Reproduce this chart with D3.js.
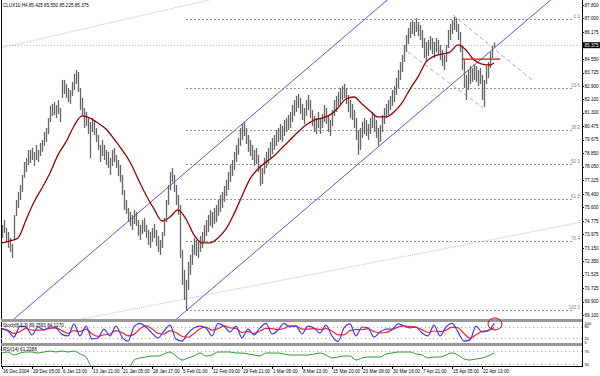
<!DOCTYPE html>
<html>
<head>
<meta charset="utf-8">
<script src="https://cdn.jsdelivr.net/npm/d3@7"></script>
<style>
body { margin: 0; background: #fff; }
svg { display: block; }
text { font-family: "Liberation Sans", Arial, sans-serif; }
</style>
</head>
<body>
<svg></svg>
<script>
// H4 bars, one entry every two bars
let barHigh = [
  74.53, 74.83, 74.35, 74.11, 73.75, 73.39, 75.13, 76.04, 76.52, 76.94,
  77.55, 78.33, 78.57, 79.06, 79.06, 79.18, 78.94, 79.36, 79.06, 79.48,
  79.66, 80.14, 80.38, 80.98, 81.71, 81.83, 81.95, 81.77, 82.07, 81.59,
  83.28, 83.28, 83.04, 82.79, 82.67, 83.16, 83.64, 83.88, 83.76, 82.79,
  82.19, 81.59, 81.35, 80.98, 80.74, 80.98, 80.86, 80.38, 79.96, 79.36,
  79.66, 79.36, 79.06, 78.94, 78.57, 79.06, 79.18, 78.76, 78.45, 78.15,
  77.55, 76.64, 76.04, 75.56, 75.32, 75.14, 75.44, 75.32, 74.83, 74.53,
  74.83, 74.95, 74.53, 74.23, 74.11, 74.35, 74.59, 74.23, 73.87, 73.63,
  74.11, 74.95, 76.04, 76.94, 77.73, 77.97, 77.55, 76.94, 76.34, 75.74,
  73.03, 71.82, 71.22, 72.30, 72.73, 73.33, 73.75, 73.63, 73.51, 73.87,
  74.11, 74.53, 74.83, 75.14, 75.44, 75.32, 75.56, 75.74, 76.04, 76.34,
  76.52, 76.88, 77.25, 77.73, 78.15, 78.45, 78.94, 79.36, 79.78, 80.38,
  80.62, 80.74, 80.38, 79.96, 79.66, 79.36, 79.06, 79.18, 78.76, 78.15,
  77.97, 78.57, 78.94, 79.18, 79.54, 79.78, 79.96, 80.26, 80.38, 80.62,
  80.50, 80.86, 80.98, 81.17, 81.35, 81.77, 82.07, 82.31, 82.43, 82.19,
  81.83, 81.59, 82.07, 82.37, 82.07, 81.47, 81.11, 80.98, 81.35, 80.98,
  81.23, 81.77, 81.59, 81.11, 80.86, 81.47, 82.07, 82.31, 82.55, 82.79,
  82.91, 83.04, 82.79, 82.37, 82.07, 81.83, 81.47, 80.98, 80.26, 80.38,
  80.74, 80.98, 80.86, 80.62, 80.98, 81.35, 81.17, 80.86, 80.38, 80.56,
  81.17, 81.59, 81.83, 82.07, 82.31, 82.67, 82.91, 83.40, 83.88, 84.36,
  84.78, 85.39, 85.99, 86.41, 86.77, 86.89, 86.77, 87.01, 86.77, 86.59,
  86.29, 85.81, 85.57, 85.69, 85.93, 85.81, 85.57, 85.81, 85.69, 85.39,
  85.09, 84.78, 85.39, 86.29, 86.65, 86.89, 87.07, 87.01, 86.65, 86.17,
  85.39, 84.48, 83.58, 83.88, 84.12, 84.00, 84.24, 84.12, 83.88, 84.00,
  83.58, 83.28, 84.12, 84.36, 84.96, 85.33, 85.55
]
let barLow = [
  73.75, 74.05, 73.51, 73.15, 72.91, 72.54, 73.63, 75.07, 75.56, 76.04,
  76.52, 77.37, 77.73, 78.15, 78.27, 78.45, 78.09, 78.45, 78.33, 78.69,
  78.94, 79.30, 79.54, 80.02, 80.74, 81.11, 81.17, 80.98, 81.23, 80.74,
  82.19, 82.43, 82.19, 81.95, 81.83, 82.31, 82.67, 83.04, 82.55, 81.47,
  81.11, 80.38, 80.50, 80.02, 78.57, 80.14, 79.96, 79.54, 79.06, 78.33,
  78.69, 78.45, 78.15, 77.97, 77.55, 78.09, 78.33, 77.97, 77.49, 77.13,
  76.34, 75.44, 75.20, 74.71, 74.47, 74.23, 74.59, 74.47, 73.87, 73.63,
  73.99, 74.11, 73.75, 73.33, 73.15, 73.51, 73.75, 73.27, 72.91, 72.73,
  73.15, 73.87, 74.71, 75.74, 76.64, 77.13, 76.52, 75.74, 75.14, 72.54,
  70.91, 70.01, 69.35, 70.61, 71.52, 72.12, 72.73, 72.66, 72.54, 72.91,
  73.15, 73.51, 73.87, 74.11, 74.47, 74.35, 74.59, 74.71, 75.08, 75.32,
  75.56, 75.92, 76.28, 76.64, 77.13, 77.49, 77.85, 78.33, 78.76, 79.30,
  79.66, 79.90, 79.42, 78.94, 78.69, 78.45, 78.09, 78.21, 77.73, 76.88,
  77.00, 77.61, 77.97, 78.21, 78.57, 78.82, 79.06, 79.30, 79.54, 79.66,
  79.54, 79.90, 80.14, 80.26, 80.38, 80.74, 81.11, 81.35, 81.59, 81.23,
  80.86, 80.62, 81.11, 81.47, 80.98, 80.50, 80.14, 80.02, 80.38, 80.02,
  80.38, 80.74, 80.62, 80.14, 79.90, 80.50, 81.11, 81.35, 81.71, 81.83,
  82.07, 82.19, 81.83, 81.35, 80.98, 80.86, 80.38, 79.66, 78.76, 79.06,
  79.78, 80.02, 79.90, 79.66, 80.02, 80.38, 80.14, 79.78, 79.30, 79.54,
  80.14, 80.62, 80.98, 81.17, 81.47, 81.71, 81.95, 82.37, 82.79, 83.28,
  83.76, 84.36, 84.96, 85.45, 85.81, 86.05, 85.93, 86.17, 85.93, 85.69,
  85.21, 84.60, 84.36, 84.72, 85.09, 84.84, 84.60, 84.96, 84.78, 84.48,
  84.12, 83.88, 84.36, 85.21, 85.69, 86.05, 86.29, 86.17, 85.69, 84.96,
  83.88, 82.79, 82.07, 82.67, 83.04, 83.16, 83.28, 83.16, 82.91, 83.04,
  82.07, 81.65, 83.04, 83.40, 84.00, 84.60, 85.23
]

// moving average, one value every 4 entries (last one at the final bar)
let maValues = [
  73.45, 73.57, 73.75, 74.83, 75.92, 76.76, 77.67, 78.76, 79.54, 80.50,
  81.11, 80.98, 80.68, 80.32, 79.72, 79.06, 78.33, 77.31, 76.34, 75.50,
  74.77, 75.01, 75.44, 74.89, 73.93, 73.45, 73.45, 73.75, 74.29, 75.20,
  76.28, 77.31, 77.91, 78.33, 78.69, 79.18, 79.66, 80.14, 80.56, 80.86,
  80.98, 81.17, 81.59, 82.13, 82.25, 81.83, 81.41, 81.05, 81.05, 81.35,
  81.89, 82.73, 83.46, 84.36, 84.72, 84.84, 84.96, 85.39, 85.09, 84.48,
  84.24, 84.18, 84.30
]

// oscillators, one value every 3 entries
let stochMain = [
  68, 58, 26, 84, 79, 37, 79, 63, 79, 74, 40, 32, 95, 32, 84, 16, 21, 68, 32, 84,
  26, 5, 79, 98, 79, 47, 21, 58, 89, 16, 5, 47, 74, 84, 74, 32, 98, 84, 53, 84,
  21, 68, 37, 74, 98, 42, 63, 98, 79, 84, 42, 84, 74, 47, 89, 32, 3, 74, 95, 32,
  79, 74, 26, 53, 68, 68, 95, 84, 74, 79, 47, 32, 89, 32, 79, 98, 53, 5, 11, 84,
  53, 58, 98
]
let stochSignal = [
  70, 62, 45, 55, 72, 62, 62, 65, 72, 74, 60, 45, 60, 55, 68, 42, 30, 38, 42, 60,
  50, 32, 40, 70, 85, 70, 45, 42, 60, 50, 30, 25, 45, 70, 78, 62, 70, 85, 75, 72,
  50, 55, 45, 58, 72, 70, 65, 72, 85, 85, 68, 68, 70, 65, 70, 58, 38, 38, 60, 65,
  65, 70, 55, 48, 50, 64, 78, 85, 82, 78, 65, 50, 58, 55, 62, 78, 75, 45, 20, 38,
  55, 62, 75
]
let rsiValues = [
  64, 67, 58, 64, 67, 67, 64, 67, 70, 67, 70, 67, 70, 61, 52, 22, 24, 20, 22, 24,
  18, 15, 43, 49, 52, 55, 55, 61, 67, 55, 43, 49, 55, 64, 55, 58, 67, 67, 67, 64,
  64, 61, 58, 55, 64, 64, 64, 61, 58, 58, 58, 58, 61, 64, 58, 49, 52, 55, 55, 43,
  49, 52, 52, 52, 61, 64, 67, 67, 67, 61, 58, 49, 52, 52, 58, 64, 58, 46, 43, 46,
  49, 55, 64
]

let timeLabels = ["16 Dec 2004", "29 Dec 05:00", "6 Jan 13:00", "13 Jan 21:00", "21 Jan 05:00",
  "28 Jan 17:00", "5 Feb 01:00", "12 Feb 09:00", "19 Feb 21:00", "1 Mar 05:00", "8 Mar 13:00",
  "15 Mar 20:00", "23 Mar 08:00", "30 Mar 16:00", "7 Apr 21:00", "15 Apr 05:00", "22 Apr 13:00"]
let priceLabels = ["87.800", "87.000", "86.175", "85.375", "84.550", "83.725", "82.900", "82.100",
  "81.300", "80.475", "79.675", "78.850", "78.050", "77.225", "76.400", "75.600", "74.775",
  "73.975", "73.150", "72.350", "71.525", "70.725", "69.900", "69.100"]
let fibNames = ["0.0", "23.6", "38.2", "50.0", "61.8", "76.4", "100.0"]
let fibPrices = [86.95, 82.81, 80.25, 78.18, 76.11, 73.55, 69.41]
let lastPrice = 85.375
let header = "CLUX10,H4  85.425 85.550 85.225 85.375"

let width = 600
let height = 376
let chartRight = 582
let fs = 4.6

let svg = d3.select("svg").attr("width", width).attr("height", height)

let xScale = d3.scaleLinear().domain([0, barHigh.length - 1]).range([2, 494])
let yScale = d3.scaleLinear().domain([69.1, 87.8]).range([315, 5])
let stochScale = d3.scaleLinear().domain([0, 100]).range([342, 323])
let rsiScale = d3.scaleLinear().domain([25, 85]).range([366, 346])

svg.append("clipPath").attr("id", "mainClip")
  .append("rect").attr("x", 1).attr("y", 0).attr("width", chartRight - 1).attr("height", 319)
svg.append("clipPath").attr("id", "stochClip")
  .append("rect").attr("x", 1).attr("y", 322).attr("width", chartRight - 1).attr("height", 21)
svg.append("clipPath").attr("id", "rsiClip")
  .append("rect").attr("x", 1).attr("y", 346).attr("width", chartRight - 1).attr("height", 20)

let main = svg.append("g").attr("clip-path", "url(#mainClip)")

// fibonacci levels
fibPrices.forEach((p, i) => {
  main.append("line")
    .attr("x1", xScale(92)).attr("x2", 574)
    .attr("y1", Math.round(yScale(p)) + 0.5).attr("y2", Math.round(yScale(p)) + 0.5)
    .attr("stroke", "#999").attr("stroke-dasharray", "2,2")
  svg.append("text").attr("x", 580).attr("y", yScale(p) - 1)
    .attr("text-anchor", "end").attr("font-size", fs).attr("fill", "#888")
    .text(fibNames[i])
})

// bid line
main.append("line")
  .attr("x1", 0).attr("x2", chartRight)
  .attr("y1", Math.round(yScale(lastPrice)) + 0.5).attr("y2", Math.round(yScale(lastPrice)) + 0.5)
  .attr("stroke", "#bbb").attr("stroke-dasharray", "1,2")

// draws a line through two points (bar, price), stretched across the chart
let ray = (b1, p1, b2, p2) => {
  let x1 = xScale(b1), y1 = yScale(p1), x2 = xScale(b2), y2 = yScale(p2)
  let k = (y2 - y1) / (x2 - x1)
  return [[-20, y1 + k * (-20 - x1)], [chartRight + 20, y1 + k * (chartRight + 20 - x1)]]
}
let drawLine = (pts, color, dash) => {
  main.append("path")
    .attr("d", d3.line()(pts))
    .attr("fill", "none").attr("stroke", color).attr("stroke-width", 1)
    .attr("stroke-dasharray", dash)
}

drawLine(ray(19, 85.75, 99, 87.98), "#b8b8ee", "1,1")
drawLine(ray(249, 73.75, 290, 74.71), "#b8b8ee", "1,1")
drawLine(ray(40, 72.37, 190, 87.83), "#5a5ad6", null)
drawLine(ray(92, 69.35, 242, 84.78), "#5a5ad6", null)

// gray dashed channel
drawLine([[xScale(225.5), yScale(87.20)], [xScale(265), yScale(83.28)]], "#aaa", "4,3")
drawLine([[xScale(203), yScale(84.96)], [xScale(240.5), yScale(81.59)]], "#aaa", "4,3")

// bars
main.selectAll(".bar")
  .data(barHigh)
  .enter()
  .append("line")
  .attr("class", "bar")
  .attr("x1", (d, i) => xScale(i) + 0.5)
  .attr("x2", (d, i) => xScale(i) + 0.5)
  .attr("y1", (d) => yScale(d))
  .attr("y2", (d, i) => yScale(barLow[i]))
  .attr("stroke", "#666")
  .attr("stroke-width", 1.3)

// moving average
let maBars = maValues.map((v, i) => i < maValues.length - 1 ? i * 4 : barHigh.length - 1)
main.append("path")
  .datum(maValues)
  .attr("d", d3.line().curve(d3.curveMonotoneX)
    .x((d, i) => xScale(maBars[i])).y((d) => yScale(d)))
  .attr("fill", "none").attr("stroke", "#9a0000").attr("stroke-width", 1.3)

// red horizontal segment
main.append("line")
  .attr("x1", xScale(230)).attr("x2", xScale(249))
  .attr("y1", yScale(84.54)).attr("y2", yScale(84.54))
  .attr("stroke", "#ee0000").attr("stroke-width", 1.3)

// header
svg.append("text").attr("x", 3).attr("y", 7).attr("font-size", fs).attr("fill", "#000").text(header)

// price axis
svg.append("line").attr("x1", chartRight + 0.5).attr("x2", chartRight + 0.5)
  .attr("y1", 0).attr("y2", 367).attr("stroke", "#000")
priceLabels.forEach((lab) => {
  let y = yScale(+lab)
  svg.append("line").attr("x1", chartRight).attr("x2", chartRight + 2)
    .attr("y1", Math.round(y) + 0.5).attr("y2", Math.round(y) + 0.5).attr("stroke", "#000")
  if (+lab === lastPrice) {
    svg.append("rect").attr("x", chartRight + 1).attr("y", y - 3).attr("width", 17).attr("height", 6).attr("fill", "#000")
    svg.append("text").attr("x", chartRight + 2.5).attr("y", y + 1.7).attr("font-size", fs).attr("fill", "#fff").text(lab)
  } else {
    svg.append("text").attr("x", chartRight + 2.5).attr("y", y + 1.7).attr("font-size", fs).attr("fill", "#000").text(lab)
  }
})

// panel borders
svg.append("line").attr("x1", 1.5).attr("x2", 1.5).attr("y1", 0).attr("y2", 367).attr("stroke", "#000")
svg.append("rect").attr("x", 1).attr("y", 319).attr("width", chartRight - 1).attr("height", 3).attr("fill", "#999")
svg.append("rect").attr("x", 1).attr("y", 343).attr("width", chartRight - 1).attr("height", 3).attr("fill", "#999")
svg.append("line").attr("x1", 1).attr("x2", chartRight).attr("y1", 366.5).attr("y2", 366.5).attr("stroke", "#000")

// stochastic panel
let stochBars = stochMain.map((d, i) => i * 3)
let stoch = svg.append("g").attr("clip-path", "url(#stochClip)")
;[80, 20].forEach((lv) => {
  stoch.append("line").attr("x1", 1).attr("x2", chartRight)
    .attr("y1", Math.round(stochScale(lv)) + 0.5).attr("y2", Math.round(stochScale(lv)) + 0.5)
    .attr("stroke", "#aaa").attr("stroke-dasharray", "1,3")
})
stoch.append("path").datum(stochSignal)
  .attr("d", d3.line().curve(d3.curveMonotoneX).x((d, i) => xScale(stochBars[i])).y((d) => stochScale(d)))
  .attr("fill", "none").attr("stroke", "#ff2020").attr("stroke-width", 1.2)
stoch.append("path").datum(stochMain)
  .attr("d", d3.line().curve(d3.curveMonotoneX).x((d, i) => xScale(stochBars[i])).y((d) => stochScale(d)))
  .attr("fill", "none").attr("stroke", "#3c3cff").attr("stroke-width", 1.2)
svg.append("text").attr("x", 3).attr("y", 327).attr("font-size", fs).text("Stoch(8,3,3) 89.2593 84.1270")
svg.append("ellipse").attr("cx", xScale(246.5)).attr("cy", stochScale(95))
  .attr("rx", 7).attr("ry", 6).attr("fill", "none").attr("stroke", "#e00000").attr("stroke-width", 1)
;[["100", 100], ["80", 80], ["20", 20], ["0", 0]].forEach((d) => {
  svg.append("text").attr("x", chartRight + 2.5).attr("y", stochScale(d[1]) + 1.5).attr("font-size", 4).text(d[0])
})

// rsi panel
let rsi = svg.append("g").attr("clip-path", "url(#rsiClip)")
;[70, 30].forEach((lv) => {
  rsi.append("line").attr("x1", 1).attr("x2", chartRight)
    .attr("y1", Math.round(rsiScale(lv)) + 0.5).attr("y2", Math.round(rsiScale(lv)) + 0.5)
    .attr("stroke", "#aaa").attr("stroke-dasharray", "1,3")
})
rsi.append("path").datum(rsiValues)
  .attr("d", d3.line().curve(d3.curveMonotoneX).x((d, i) => xScale(stochBars[i])).y((d) => rsiScale(d)))
  .attr("fill", "none").attr("stroke", "#2e9a2e").attr("stroke-width", 1)
svg.append("text").attr("x", 3).attr("y", 351).attr("font-size", fs).text("RSI(14) 61.2288")
;[["70", 70], ["30", 30]].forEach((d) => {
  svg.append("text").attr("x", chartRight + 2.5).attr("y", rsiScale(d[1]) + 1.5).attr("font-size", 4).text(d[0])
})

// time axis
timeLabels.forEach((lab, i) => {
  let x = xScale(i * 15)
  svg.append("line").attr("x1", Math.round(x) + 0.5).attr("x2", Math.round(x) + 0.5)
    .attr("y1", 366).attr("y2", 369).attr("stroke", "#000")
  svg.append("text").attr("x", x + 1).attr("y", 373).attr("font-size", fs).text(lab)
})
</script>
</body>
</html>
